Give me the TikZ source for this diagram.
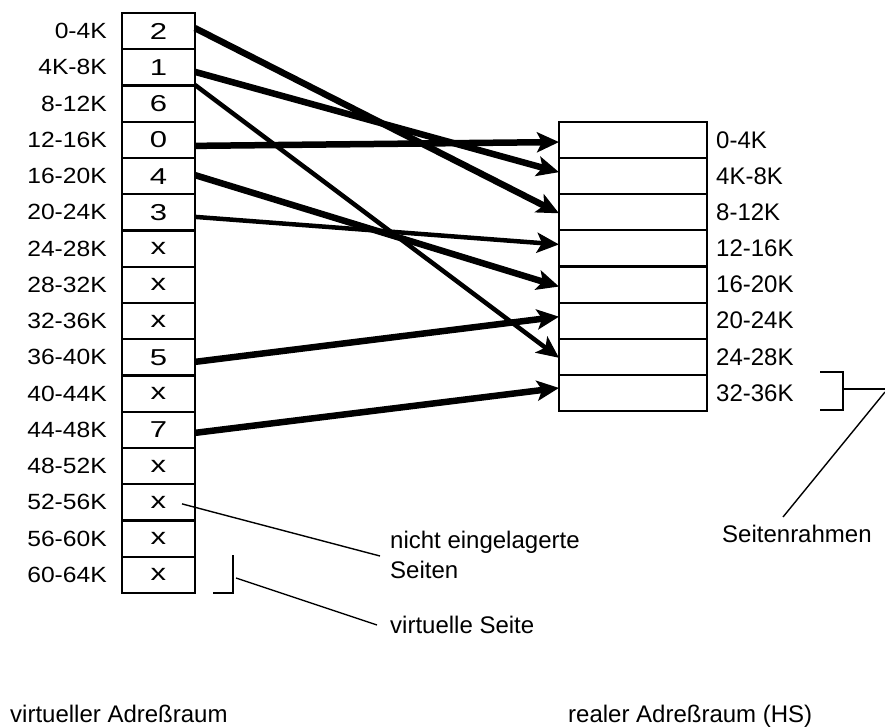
\documentclass[tikz,border=0pt]{standalone}
\usepackage{fontspec}
\setmainfont{Liberation Sans}
\newfontfamily\lblfont[FakeStretch=1.12]{Liberation Sans}
\newfontfamily\digfont[FakeStretch=1.35]{Liberation Sans}
\usetikzlibrary{arrows.meta,calc}
\begin{document}
\begin{tikzpicture}[x=1pt,y=-1pt,
  vcell/.style={draw,line width=2.3pt,minimum width=73pt,minimum height=36.25pt,inner sep=0pt,outer sep=0pt,font=\digfont\fontsize{23}{23}\selectfont},
  rcell/.style={draw,line width=2.2pt,minimum width=148pt,minimum height=36.125pt,inner sep=0pt,outer sep=0pt},
  vlbl/.style={anchor=east,inner sep=0pt,font=\lblfont\fontsize{22}{22}\selectfont},
  rlbl/.style={anchor=west,inner sep=0pt,font=\fontsize{24}{24}\selectfont},
  note/.style={anchor=base west,inner sep=0pt,font=\fontsize{24}{24}\selectfont},
  map/.style={line width=6.5pt,-{Stealth[length=22pt,width=20pt,inset=5pt]}},
  mapthin/.style={line width=4.5pt,-{Stealth[length=22pt,width=20pt,inset=5pt]}},
  annot/.style={line width=1.4pt},
  brk/.style={line width=2.2pt}]
\fill[white] (0,0) rectangle (885,727);
\useasboundingbox (0,0) rectangle (885,727);
% virtual address space
\foreach \t [count=\i from 0] in {2,1,6,0,4,3,x,x,x,5,x,7,x,x,x,x}
  \node[vcell] (v\i) at (158.5,{13+36.25*(\i+0.5)}) {\t};
\foreach \l [count=\i from 0] in {0-4K,4K-8K,8-12K,12-16K,16-20K,20-24K,24-28K,28-32K,32-36K,36-40K,40-44K,44-48K,48-52K,52-56K,56-60K,60-64K}
  \node[vlbl] (vl\i) at (107,{13+36.25*(\i+0.5)}) {\l};
% real address space
\foreach \i in {0,...,7}
  \node[rcell] (r\i) at (633,{122+36.125*(\i+0.5)}) {};
\foreach \l [count=\i from 0] in {0-4K,4K-8K,8-12K,12-16K,16-20K,20-24K,24-28K,32-36K}
  \node[rlbl] (rl\i) at (716,{122+36.125*(\i+0.5)}) {\l};
% start and end points
\coordinate (s0) at ($(v0.east)+(0,-3)$);
\coordinate (s1) at ($(v1.east)+(0,4.5)$);
\coordinate (s2) at ($(v2.north east)+(0,-0.5)$);
\coordinate (s3) at ($(v3.east)+(0,6)$);
\coordinate (s4) at ($(v4.east)+(0,-1)$);
\coordinate (s5) at ($(v5.east)+(0,4.5)$);
\coordinate (s9) at ($(v9.east)+(0,4.5)$);
\coordinate (s11) at ($(v11.east)+(0,3)$);
\coordinate (t0) at ($(r0.west)+(0,2)$);
\coordinate (t1) at ($(r1.west)+(0,-4)$);
\coordinate (t2) at ($(r2.west)+(0,1)$);
\coordinate (t3) at ($(r3.west)+(0,-4)$);
\coordinate (t4) at ($(r4.west)+(0,2)$);
\coordinate (t5) at ($(r5.west)+(0,-4)$);
\coordinate (t6) at ($(r6.west)+(0,1)$);
\coordinate (t7) at ($(r7.west)+(0,-5)$);
% mappings
\draw[map] (s0) -- (t2);
\draw[map] (s1) -- (t1);
\draw[mapthin] (s2) -- (t6);
\draw[map] (s3) -- (t0);
\draw[map] (s4) -- (t4);
\draw[mapthin] (s5) -- (t3);
\draw[map] (s9) -- (t5);
\draw[map] (s11) -- (t7);
% annotations
\node[note] (n1) at (390,548) {nicht eingelagerte};
\node[note] (n2) at (390,578) {Seiten};
\node[note] (n3) at (390,633) {virtuelle Seite};
\node[note] (n4) at (722,542) {Seitenrahmen};
\node[note] (b1) at (10,722) {virtueller Adreßraum};
\node[note] (b2) at (568,722) {realer Adreßraum (HS)};
% pointer to not loaded pages
\coordinate (p1) at ($(v13.center)+(23.5,1.5)$);
\draw[annot] (p1) -- ($(n1.base west)+(-10,8)$);
% virtual page bracket
\coordinate (lb1) at ($(v15.south east)+(18,0)$);
\coordinate (lb2) at ($(v15.south east)+(38,0)$);
\coordinate (lb3) at ($(v15.south east)+(38,-38)$);
\draw[brk] (lb1) -- (lb2) -- (lb3);
\draw[annot] ($(lb2)+(3,-15)$) -- ($(n3.base west)+(-13,-8)$);
% page frame bracket
\coordinate (rb1) at (820,372);
\coordinate (rb2) at (843,372);
\coordinate (rb3) at (843,410);
\coordinate (rb4) at (820,410);
\draw[brk] (rb1) -- (rb2) -- (rb3) -- (rb4);
\coordinate (re) at (885,389);
\draw[annot] (843,389) -- (re);
\draw[annot] (885,392) -- ($(n4.base west)+(61,-25)$);
\end{tikzpicture}
\end{document}
